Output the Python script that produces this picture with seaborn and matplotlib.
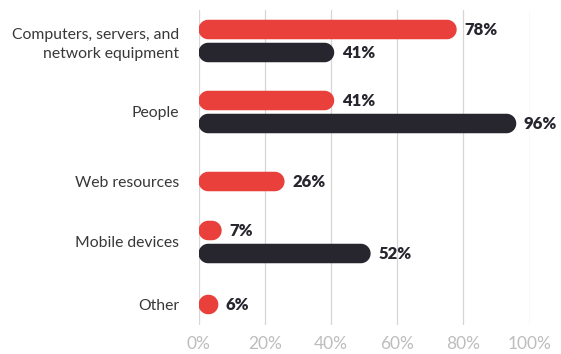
import numpy as np
import pandas as pd
import seaborn as sns
import matplotlib
matplotlib.use("Agg")
import matplotlib.pyplot as plt
from matplotlib.path import Path
from matplotlib.patches import PathPatch

# ---- data ----
categories = ["Computers, servers, and\nnetwork equipment", "People",
              "Web resources", "Mobile devices", "Other"]
series_names = ["Red", "Dark"]
red_values = [78, 41, 26, 7, 6]
dark_values = [41, 96, None, 52, None]
tick_values = [0, 20, 40, 60, 80, 100]
tick_labels = ["0%", "20%", "40%", "60%", "80%", "100%"]

# ---- style / layout ----
RED = "#EA403B"
DARK = "#27262F"
GRID = "#D6D6D6"
row_centers = [41, 112, 181.5, 242, 304.5]   # layout (pixel-like units)
dodge_off = 11.5
bar_h = 19.5

sns.set_style("white")
plt.rcParams["font.family"] = ["Lato", "DejaVu Sans"]

W, H, DPI = 561, 354, 100
fig = plt.figure(figsize=(W / DPI, H / DPI), dpi=DPI)
x0_px, x1_px = 198.5, 529.5
y_top, y_bot = 10, 325
ax = fig.add_axes([x0_px / W, (H - y_bot) / H, (x1_px - x0_px) / W, (y_bot - y_top) / H])

rows = []
for i, cat in enumerate(categories):
    vals = [red_values[i], dark_values[i]]
    present = [(s, v) for s, v in zip(series_names, vals) if v is not None]
    for k, (s, v) in enumerate(present):
        if len(present) == 1:
            yy = row_centers[i]
        else:
            yy = row_centers[i] + (-dodge_off if k == 0 else dodge_off)
        rows.append({"category": cat, "series": s, "value": v, "ypos": yy})
df = pd.DataFrame(rows)

sns.barplot(data=df, x="value", y="ypos", hue="series", orient="y",
            native_scale=True, dodge=False, saturation=1,
            palette={"Red": RED, "Dark": DARK}, legend=False, ax=ax)

ax.set_xlim(0, 100)
ax.set_ylim(y_bot, y_top)

px_per_x = (x1_px - x0_px) / 100.0


def stadium(x0, x1, yc, h):
    ry = h / 2
    rx = ry / px_per_x
    w = x1 - x0
    if w < 2 * rx:
        rx = w / 2
    t = np.linspace(-np.pi / 2, np.pi / 2, 40)
    right = np.column_stack([x1 - rx + rx * np.cos(t), yc + ry * np.sin(t)])
    t2 = np.linspace(np.pi / 2, 3 * np.pi / 2, 40)
    left = np.column_stack([x0 + rx + rx * np.cos(t2), yc + ry * np.sin(t2)])
    pts = np.vstack([right, left, right[:1]])
    codes = [Path.MOVETO] + [Path.LINETO] * (len(pts) - 2) + [Path.CLOSEPOLY]
    return Path(pts, codes)


bars = list(ax.patches)
for p in bars:
    x = p.get_x()
    w = p.get_width()
    if not np.isfinite(w) or w <= 0:
        p.remove()
        continue
    yc = p.get_y() + p.get_height() / 2
    color = p.get_facecolor()
    p.remove()
    ax.add_patch(PathPatch(stadium(x, x + w, yc, bar_h), facecolor=color,
                           edgecolor="none", zorder=3))
    ax.annotate(f"{int(round(w))}%", (x + w, yc), xytext=(5.5, -0.5),
                textcoords="offset points", va="center", ha="left",
                fontsize=12, fontweight="heavy", color=DARK, zorder=4)

# grid & ticks
ax.set_xticks(tick_values)
ax.set_xticklabels(tick_labels)
ax.grid(axis="x", color=GRID, linewidth=0.9, zorder=0)
ax.grid(axis="y", visible=False)
ax.set_axisbelow(True)
for s in ax.spines.values():
    s.set_visible(False)
ax.tick_params(axis="x", length=3.8, width=0.9, color=GRID, pad=4,
               labelsize=12.5, labelcolor="#BDBDBD")

ax.set_yticks(row_centers)
ax.set_yticklabels(categories)
ax.tick_params(axis="y", length=0, pad=14, labelsize=11.3, labelcolor="#383838")
for t in ax.get_yticklabels():
    t.set_multialignment("right")
    t.set_linespacing(1.4)
ax.set_xlabel("")
ax.set_ylabel("")

fig.savefig("out.png", dpi=DPI)
